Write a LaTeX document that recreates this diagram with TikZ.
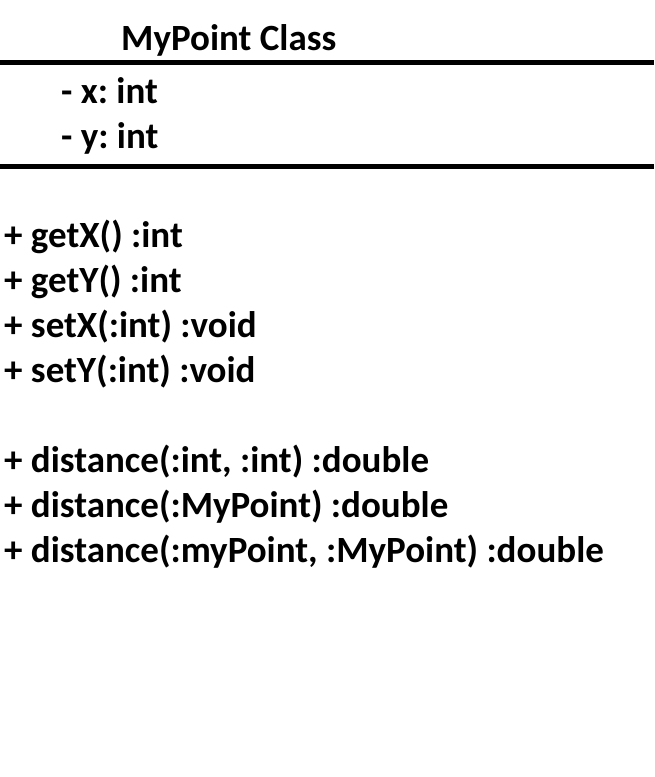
\documentclass[tikz,border=0pt]{standalone}
\usepackage{fontspec}
\setmainfont{Carlito}
\usetikzlibrary{positioning}
\frenchspacing
\tikzset{%
  entry/.style={anchor=base west, inner sep=0pt, font=\bfseries\fontsize{37}{42}\selectfont},
  rule/.style={line width=5pt}
}

\begin{document}
\begin{tikzpicture}[x=1pt, y=-1pt]
          \useasboundingbox[fill=white] (0, 0) rectangle (654, 777);

          \node[entry] (title) at (121, 50) {MyPoint Class};
          \draw[rule] (0, 62) -- (654, 62);

          \node[entry] (fx) at (61, 103) {- x: int};
          \node[entry] (fy) at (61, 148) {- y: int};
          \draw[rule] (0, 166) -- (654, 166);

          \node[entry] (getx) at (4, 247) {+ getX() :int};
          \node[entry] (gety) at (4, 292) {+ getY() :int};
          \node[entry] (setx) at (4, 337) {+ setX(:int) :void};
          \node[entry] (sety) at (4, 382) {+ setY(:int) :void};

          \node[entry] (dist1) at (4, 472) {+ distance(:int, :int) :double};
          \node[entry] (dist2) at (4, 517) {+ distance(:MyPoint) :double};
          \node[entry] (dist3) at (4, 562) {+ distance(:myPoint, :MyPoint) :double};
        \end{tikzpicture}
\end{document}
